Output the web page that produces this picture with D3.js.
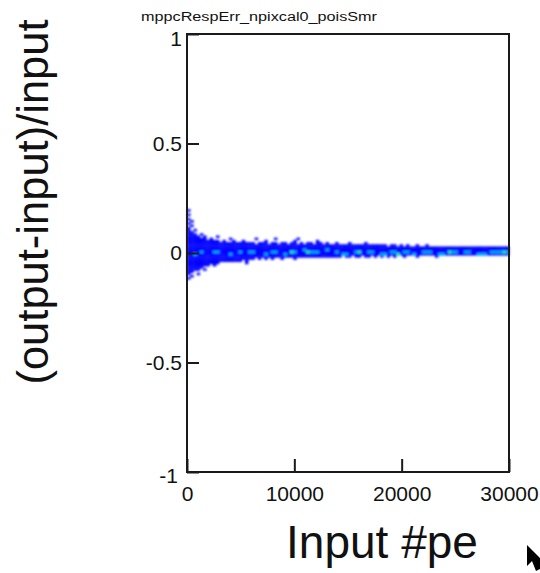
<!DOCTYPE html>
<html>
<head>
<meta charset="utf-8">
<script src="https://cdn.jsdelivr.net/npm/d3@7"></script>
<style>
  html, body { margin: 0; padding: 0; background: #fff; }
  svg { display: block; }
  text { font-family: "Liberation Sans", Arial, Helvetica, sans-serif; fill: #111; }
</style>
</head>
<body>
<svg id="chart" width="540" height="573"></svg>
<script>
// ---- histogram contents (TH2, 100 x-bins of 300 pe, y-bins of 0.01) ----
const titleText = "mppcRespErr_npixcal0_poisSmr";
const xLabel = "Input #pe";
const yLabel = "(output-input)/input";
const xTicks = [0, 10000, 20000, 30000];
const yTicks = [-1, -0.5, 0, 0.5, 1];
const xBinWidth = 300;
const yBinWidth = 0.01;

// upper edge of populated cells per x-bin
const bandHi = [
  0.12, 0.10, 0.09, 0.08, 0.07, 0.075, 0.06, 0.065, 0.055, 0.06,
  0.05, 0.055, 0.045, 0.05, 0.06, 0.045, 0.05, 0.055, 0.045, 0.05,
  0.045, 0.04, 0.05, 0.045, 0.055, 0.04, 0.045, 0.05, 0.04, 0.045,
  0.05, 0.04, 0.045, 0.055, 0.04, 0.045, 0.04, 0.05, 0.045, 0.04,
  0.045, 0.05, 0.04, 0.045, 0.04, 0.035, 0.045, 0.04, 0.035, 0.04,
  0.045, 0.035, 0.04, 0.035, 0.04, 0.045, 0.035, 0.04, 0.035, 0.04,
  0.035, 0.04, 0.03, 0.035, 0.04, 0.03, 0.035, 0.03, 0.035, 0.03,
  0.03, 0.035, 0.025, 0.03, 0.035, 0.03, 0.025, 0.03, 0.03, 0.025,
  0.03, 0.025, 0.03, 0.025, 0.03, 0.03, 0.025, 0.03, 0.025, 0.03,
  0.025, 0.03, 0.025, 0.03, 0.025, 0.025, 0.03, 0.025, 0.03, 0.025
];
// lower edge of populated cells per x-bin
const bandLo = [
  -0.10, -0.09, -0.085, -0.08, -0.07, -0.065, -0.065, -0.055, -0.05, -0.05,
  -0.045, -0.04, -0.045, -0.04, -0.035, -0.04, -0.035, -0.03, -0.035, -0.03,
  -0.03, -0.025, -0.03, -0.025, -0.03, -0.025, -0.03, -0.02, -0.025, -0.03,
  -0.025, -0.02, -0.025, -0.03, -0.02, -0.025, -0.02, -0.025, -0.02, -0.025,
  -0.02, -0.025, -0.02, -0.025, -0.02, -0.02, -0.025, -0.02, -0.015, -0.02,
  -0.02, -0.015, -0.02, -0.025, -0.015, -0.02, -0.02, -0.015, -0.02, -0.015,
  -0.02, -0.015, -0.02, -0.015, -0.02, -0.015, -0.015, -0.02, -0.015, -0.015,
  -0.015, -0.02, -0.015, -0.015, -0.01, -0.015, -0.015, -0.02, -0.015, -0.01,
  -0.015, -0.015, -0.01, -0.015, -0.015, -0.01, -0.015, -0.015, -0.01, -0.015,
  -0.015, -0.01, -0.015, -0.015, -0.01, -0.015, -0.01, -0.015, -0.015, -0.01
];
// denser cells along the centre: [x from, x to, y from, y to]
const coreSegments = [
  [600, 900, -0.01, 0.0], [1200, 1500, 0.0, 0.01], [2400, 3000, 0.0, 0.01],
  [3900, 4200, -0.01, 0.0], [4800, 5100, 0.0, 0.01], [5700, 6300, 0.0, 0.01],
  [7200, 7500, -0.01, 0.0], [7800, 8400, 0.0, 0.01], [9000, 9300, -0.01, 0.0],
  [9600, 10200, 0.0, 0.01], [10800, 11100, 0.01, 0.02], [11400, 12300, 0.0, 0.01],
  [12900, 13200, 0.01, 0.02], [13800, 14100, 0.0, 0.01], [14400, 15000, -0.01, 0.0],
  [15600, 16200, 0.0, 0.01], [16800, 17400, 0.0, 0.01], [18000, 18600, -0.01, 0.0],
  [18900, 19500, 0.0, 0.01], [20100, 20700, 0.0, 0.01], [21000, 21300, -0.01, 0.0],
  [21900, 22800, 0.0, 0.01], [23400, 24000, -0.01, 0.0], [24300, 25200, 0.0, 0.01],
  [25800, 26400, 0.0, 0.01], [27000, 27900, -0.01, 0.0], [28200, 30000, 0.0, 0.01]
];
// highest-count cells [x, y]
const peakCells = [
  [9750, 0.005], [11250, 0.005], [16050, 0.005], [19650, -0.005], [24450, 0.005], [29550, 0.005]
];
// isolated low-count cells outside the main band [x, y]
const sparseCells = [
  [150, 0.195], [150, 0.175], [150, 0.155], [150, 0.135], [450, 0.145], [450, 0.125],
  [150, -0.115], [450, -0.105], [1050, -0.095], [750, 0.105], [1350, 0.085],
  [1650, -0.075], [2550, -0.06], [2850, 0.075], [4050, 0.065], [5550, -0.045],
  [6450, 0.065], [8250, 0.06], [10350, 0.06], [12150, 0.055]
];

// ---- layout ----
const svg = d3.select("#chart");
const frame = { left: 187, right: 509, top: 34, bottom: 472 };
const x = d3.scaleLinear().domain([0, 30000]).range([frame.left, frame.right]);
const y = d3.scaleLinear().domain([-1, 1]).range([frame.bottom, frame.top]);

const colBlue = "#0000ff", colCyan = "#00b4ff", colGreen = "#2cff5a";

// build the list of filled cells
const cells = [];
bandHi.forEach((hi, i) => {
  const k0 = Math.round(bandLo[i] / yBinWidth);
  const k1 = Math.round(hi / yBinWidth);
  for (let k = k0; k < k1; k++) {
    cells.push({ x0: i * xBinWidth, y0: k * yBinWidth, c: colBlue });
  }
});
sparseCells.forEach(([px, py]) => {
  cells.push({ x0: Math.floor(px / xBinWidth) * xBinWidth, y0: Math.floor(py / yBinWidth) * yBinWidth, c: colBlue });
});
coreSegments.forEach(([a, b, lo, hi]) => {
  for (let xv = a; xv < b; xv += xBinWidth) {
    for (let k = Math.round(lo / yBinWidth); k < Math.round(hi / yBinWidth); k++) {
      cells.push({ x0: xv, y0: k * yBinWidth, c: colCyan });
    }
  }
});
peakCells.forEach(([px, py]) => {
  cells.push({ x0: Math.floor(px / xBinWidth) * xBinWidth, y0: Math.floor(py / yBinWidth) * yBinWidth, c: colGreen });
});

const defs = svg.append("defs");
defs.append("filter").attr("id", "soft")
  .attr("x", "-5%").attr("y", "-50%").attr("width", "110%").attr("height", "200%")
  .append("feGaussianBlur").attr("stdDeviation", 0.8);

svg.append("g").attr("filter", "url(#soft)")
  .selectAll("rect").data(cells).join("rect")
  .attr("x", d => x(d.x0))
  .attr("y", d => y(d.y0 + yBinWidth))
  .attr("width", d => x(d.x0 + xBinWidth) - x(d.x0) + 0.3)
  .attr("height", d => y(d.y0) - y(d.y0 + yBinWidth) + 0.3)
  .attr("fill", d => d.c);

// ---- frame and axes ----
svg.append("rect")
  .attr("x", frame.left).attr("y", frame.top)
  .attr("width", frame.right - frame.left).attr("height", frame.bottom - frame.top)
  .attr("fill", "none").attr("stroke", "#1a1a1a").attr("stroke-width", 2);

// plain hyphen for negative labels, as ROOT prints them
const plainNum = d => String(d);

const yAxis = svg.append("g")
  .attr("transform", `translate(${frame.left},0)`)
  .call(d3.axisLeft(y).tickValues(yTicks).tickSizeInner(-12).tickSizeOuter(0).tickPadding(5)
    .tickFormat(plainNum));
yAxis.select(".domain").remove();
yAxis.selectAll(".tick line").attr("stroke", "#1a1a1a").attr("stroke-width", 2);
yAxis.selectAll(".tick text").attr("font-size", 21).attr("fill", "#111");
yAxis.selectAll(".tick").filter(d => d === -1).select("text")
  .attr("x", -9).attr("dy", "0.5em");
yAxis.selectAll(".tick").filter(d => d === 1).select("text")
  .attr("dy", "0.55em");

const xAxis = svg.append("g")
  .attr("transform", `translate(0,${frame.bottom})`)
  .call(d3.axisBottom(x).tickValues(xTicks).tickSizeInner(-13).tickSizeOuter(0).tickPadding(14)
    .tickFormat(plainNum));
xAxis.select(".domain").remove();
xAxis.selectAll(".tick line").attr("stroke", "#1a1a1a").attr("stroke-width", 2);
xAxis.selectAll(".tick text").attr("font-size", 21).attr("fill", "#111");

// ---- titles ----
svg.append("text")
  .attr("x", 141).attr("y", 21)
  .attr("font-size", 12)
  .attr("textLength", 236).attr("lengthAdjust", "spacingAndGlyphs")
  .text(titleText);

svg.append("text")
  .attr("x", 382).attr("y", 558)
  .attr("text-anchor", "middle")
  .attr("font-size", 46)
  .text(xLabel);

svg.append("text")
  .attr("transform", "translate(48,202) rotate(-90)")
  .attr("text-anchor", "middle")
  .attr("font-size", 43.5)
  .text(yLabel);

// pointer arrow at the lower right
svg.append("path")
  .attr("d", "M527,545 L527,566 L532,561 L536,571 L540,569 L540,558 Z")
  .attr("fill", "#000");
</script>
</body>
</html>
